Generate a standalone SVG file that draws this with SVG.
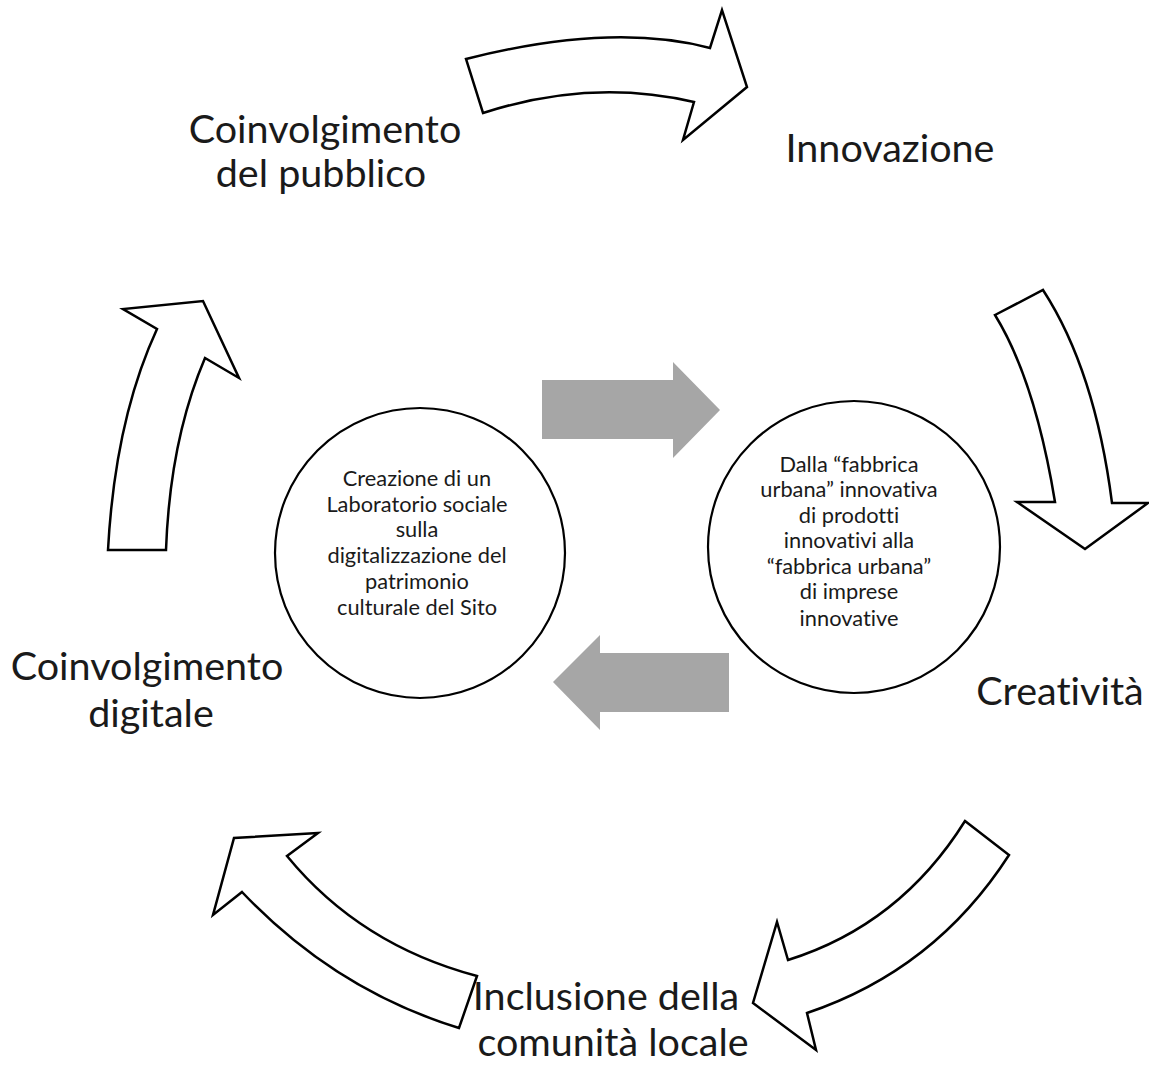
<svg xmlns="http://www.w3.org/2000/svg" width="1149" height="1069" viewBox="0 0 1149 1069">
<style>
.bg{fill:#ffffff}
.arr{fill:#ffffff;stroke:#000000;stroke-width:2.5;stroke-linejoin:miter}
.garr{fill:#a6a6a6;stroke:none}
.circ{fill:#ffffff;stroke:#000000;stroke-width:2.2}
.lbl{font-family:Lato,"Open Sans",sans-serif;font-size:39.5px;fill:#1a1a1a;text-anchor:middle;font-variant-ligatures:none}
.ctx{font-family:Lato,"Open Sans",sans-serif;font-size:21.8px;fill:#1a1a1a;text-anchor:middle;font-variant-ligatures:none}
</style>
<rect class="bg" x="0" y="0" width="1149" height="1069"/>
<g id="connectors">
  <path id="arrow-top" class="arr" d="M466,59 Q612,22 710,48 L722,10 L747,87 L683,140 L694,102 Q591,78 483,113 Z"/>
  <path id="arrow-right" class="arr" d="M995,315 L1043,290 Q1095,370 1112,503 L1148,503 L1085,549 L1017,502 L1055,502 Q1035,380 995,315 Z"/>
  <path id="arrow-bottom-right" class="arr" d="M965,821 L1009,855 Q935,970 807,1013 L816,1050 L753,1003 L777,922 L788,960 Q900,925 965,821 Z"/>
  <path id="arrow-bottom-left" class="arr" d="M477,976 L459,1028 Q335,990 242,892 L213,915 L234,838 L318,833 L287,856 Q360,945 477,976 Z"/>
  <path id="arrow-left" class="arr" d="M108,550 L166,550 Q170,440 205,358 L239,378 L203,301 L123,309 L157,329 Q115,420 108,550 Z"/>
  <path id="gray-arrow-right" class="garr" d="M542,380 L673,380 L673,362 L720,410 L673,458 L673,439 L542,439 Z"/>
  <path id="gray-arrow-left" class="garr" d="M729,653 L600,653 L600,635 L553,682 L600,730 L600,712 L729,712 Z"/>
</g>
<g id="node-coinvolgimento-pubblico">
  <text class="lbl" x="325" y="143">Coinvolgimento</text>
  <text class="lbl" x="321" y="187">del pubblico</text>
</g>
<g id="node-innovazione">
  <text class="lbl" x="890" y="162">Innovazione</text>
</g>
<g id="node-creativita">
  <text class="lbl" x="1060" y="705">Creatività</text>
</g>
<g id="node-inclusione">
  <text class="lbl" x="606" y="1010">Inclusione della</text>
  <text class="lbl" x="613" y="1056">comunità locale</text>
</g>
<g id="node-coinvolgimento-digitale">
  <text class="lbl" x="147" y="680">Coinvolgimento</text>
  <text class="lbl" x="151" y="727">digitale</text>
</g>
<g id="node-laboratorio">
  <circle class="circ" cx="420" cy="553" r="145"/>
  <text class="ctx" x="417" y="486">Creazione di un</text>
  <text class="ctx" x="417" y="512">Laboratorio sociale</text>
  <text class="ctx" x="417" y="537">sulla</text>
  <text class="ctx" x="417" y="563">digitalizzazione del</text>
  <text class="ctx" x="417" y="589">patrimonio</text>
  <text class="ctx" x="417" y="615">culturale del Sito</text>
</g>
<g id="node-fabbrica">
  <circle class="circ" cx="854" cy="547" r="146"/>
  <text class="ctx" x="849" y="472">Dalla “fabbrica</text>
  <text class="ctx" x="849" y="497">urbana”  innovativa</text>
  <text class="ctx" x="849" y="523">di prodotti</text>
  <text class="ctx" x="849" y="548">innovativi alla</text>
  <text class="ctx" x="849" y="574">“fabbrica urbana”</text>
  <text class="ctx" x="849" y="599">di imprese</text>
  <text class="ctx" x="849" y="626">innovative</text>
</g>
</svg>
